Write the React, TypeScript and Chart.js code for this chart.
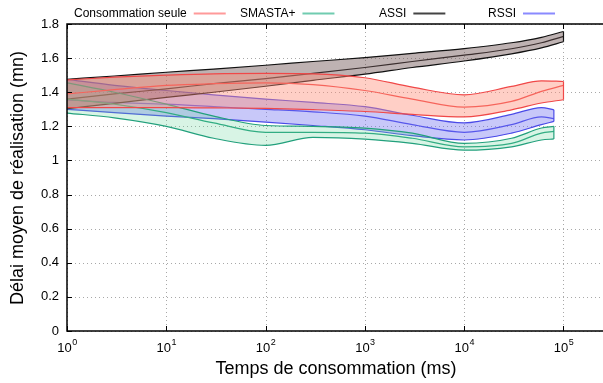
import React, { useEffect, useRef } from 'react';
import { Chart, registerables } from 'chart.js';
Chart.register(...registerables);

// ---- data ----
const xLong = [1, 3, 10, 30, 100, 300, 1000, 3000, 10000, 30000, 60000, 100000];
const xShort = [1, 3, 10, 30, 100, 300, 1000, 3000, 10000, 30000, 60000, 80000];

const consoUpper = [1.472, 1.488, 1.5, 1.508, 1.51, 1.508, 1.485, 1.43, 1.385, 1.434, 1.467, 1.463];
const consoMid = [1.39, 1.415, 1.44, 1.45, 1.455, 1.445, 1.41, 1.36, 1.313, 1.346, 1.405, 1.44];
const consoLower = [1.31, 1.31, 1.31, 1.308, 1.305, 1.298, 1.287, 1.27, 1.255, 1.297, 1.337, 1.356];

const smastaUpper = [1.455, 1.4, 1.33, 1.26, 1.205, 1.2, 1.19, 1.16, 1.1, 1.13, 1.19, 1.2];
const smastaMid = [1.36, 1.33, 1.28, 1.22, 1.165, 1.165, 1.16, 1.13, 1.08, 1.1, 1.16, 1.17];
const smastaLower = [1.278, 1.25, 1.2, 1.13, 1.088, 1.135, 1.125, 1.1, 1.06, 1.08, 1.12, 1.126];

const assiUpper = [1.476, 1.495, 1.517, 1.536, 1.558, 1.58, 1.603, 1.628, 1.656, 1.69, 1.722, 1.756];
const assiMid = [1.359, 1.39, 1.42, 1.45, 1.48, 1.51, 1.545, 1.58, 1.617, 1.655, 1.69, 1.727];
const assiLower = [1.303, 1.335, 1.37, 1.4, 1.435, 1.47, 1.506, 1.545, 1.583, 1.625, 1.66, 1.696];

const rssiUpper = [1.475, 1.44, 1.41, 1.385, 1.36, 1.34, 1.315, 1.265, 1.22, 1.27, 1.31, 1.297];
const rssiMid = [1.355, 1.34, 1.33, 1.315, 1.3, 1.285, 1.26, 1.21, 1.165, 1.21, 1.255, 1.245];
const rssiLower = [1.3, 1.28, 1.26, 1.245, 1.225, 1.205, 1.18, 1.145, 1.12, 1.16, 1.21, 1.229];

const seriesNames = ['Consommation seule', 'SMASTA+', 'ASSI', 'RSSI'];
const xTickValues = [1, 10, 100, 1000, 10000, 100000];
const xTickExponents = ['0', '1', '2', '3', '4', '5'];
const yTickValues = [0, 0.2, 0.4, 0.6, 0.8, 1, 1.2, 1.4, 1.6, 1.8];
const yTickLabels = ['0', '0.2', '0.4', '0.6', '0.8', '1', '1.2', '1.4', '1.6', '1.8'];
const xTitle = 'Temps de consommation (ms)';
const yTitle = 'Délai moyen de réalisation (mn)';

const FONT = '"Liberation Sans", Arial, Helvetica, sans-serif';

const series = [
  { name: seriesNames[0], x: xLong, up: consoUpper, mid: consoMid, lo: consoLower, line: '#f04848', fill: 'rgba(255,140,120,0.42)', legend: '#ff9a9a' },
  { name: seriesNames[1], x: xShort, up: smastaUpper, mid: smastaMid, lo: smastaLower, line: '#22a07c', fill: 'rgba(100,210,150,0.25)', legend: '#70ccb0' },
  { name: seriesNames[2], x: xLong, up: assiUpper, mid: assiMid, lo: assiLower, line: '#111111', fill: 'rgba(110,85,85,0.45)', legend: '#444444' },
  { name: seriesNames[3], x: xShort, up: rssiUpper, mid: rssiMid, lo: rssiLower, line: '#4a4ae8', fill: 'rgba(110,110,240,0.38)', legend: '#8a8aff' },
];

export default function App() {
  const ref = useRef<HTMLCanvasElement>(null);
  useEffect(() => {
    const canvas = ref.current!;
    const mk = (xs: number[], ys: number[]) => xs.map((x, i) => ({ x, y: ys[i] }));
    const datasets: any[] = [];
    series.forEach((s) => {
      const base = datasets.length;
      const common = { pointRadius: 0, borderWidth: 1.2, cubicInterpolationMode: 'monotone', borderColor: s.line };
      datasets.push({ ...common, label: s.name + ' lo', data: mk(s.x, s.lo), fill: false });
      datasets.push({ ...common, label: s.name + ' up', data: mk(s.x, s.up), fill: base, backgroundColor: s.fill });
      datasets.push({ ...common, label: s.name, data: mk(s.x, s.mid), fill: false });
    });

    const custom = {
      id: 'custom',
      beforeDatasetsDraw(chart: any) {
        const { ctx, chartArea: a, scales } = chart;
        const x = scales.x, y = scales.y;
        ctx.save();
        ctx.strokeStyle = '#a8a8a8';
        ctx.lineWidth = 1;
        ctx.setLineDash([1, 3]);
        xTickValues.forEach((v) => {
          const px = Math.round(x.getPixelForValue(v)) + 0.5;
          ctx.beginPath(); ctx.moveTo(px, a.top); ctx.lineTo(px, a.bottom); ctx.stroke();
        });
        yTickValues.forEach((v) => {
          const py = Math.round(y.getPixelForValue(v)) + 0.5;
          ctx.beginPath(); ctx.moveTo(a.left, py); ctx.lineTo(a.right, py); ctx.stroke();
        });
        ctx.restore();
      },
      afterDatasetsDraw(chart: any) {
        const { ctx } = chart;
        ctx.save();
        ctx.lineWidth = 1.2;
        series.forEach((s, i) => {
          const lo = chart.getDatasetMeta(i * 3).data;
          const up = chart.getDatasetMeta(i * 3 + 1).data;
          const pl = lo[lo.length - 1], pu = up[up.length - 1];
          ctx.strokeStyle = s.line;
          ctx.beginPath(); ctx.moveTo(pu.x, pu.y); ctx.lineTo(pl.x, pl.y); ctx.stroke();
        });
        ctx.restore();
      },
      afterDraw(chart: any) {
        const { ctx, chartArea: a, scales } = chart;
        const x = scales.x, y = scales.y;
        ctx.save();
        // frame
        ctx.strokeStyle = '#000';
        ctx.lineWidth = 1.5;
        ctx.beginPath();
        ctx.moveTo(a.right + 2, a.top); ctx.lineTo(a.left, a.top); ctx.lineTo(a.left, a.bottom); ctx.lineTo(a.right + 2, a.bottom);
        ctx.stroke();
        // tick marks
        ctx.lineWidth = 1;
        xTickValues.forEach((v) => {
          const px = Math.round(x.getPixelForValue(v)) + 0.5;
          ctx.beginPath(); ctx.moveTo(px, a.bottom); ctx.lineTo(px, a.bottom - 5); ctx.stroke();
          ctx.beginPath(); ctx.moveTo(px, a.top); ctx.lineTo(px, a.top + 5); ctx.stroke();
        });
        yTickValues.forEach((v) => {
          const py = Math.round(y.getPixelForValue(v)) + 0.5;
          ctx.beginPath(); ctx.moveTo(a.left, py); ctx.lineTo(a.left + 5, py); ctx.stroke();
        });
        // y labels
        ctx.fillStyle = '#000';
        ctx.font = `13px ${FONT}`;
        ctx.textAlign = 'right';
        ctx.textBaseline = 'middle';
        yTickValues.forEach((v, i) => {
          ctx.fillText(yTickLabels[i], a.left - 8, y.getPixelForValue(v));
        });
        // x labels with superscripts
        ctx.textBaseline = 'alphabetic';
        ctx.textAlign = 'left';
        xTickValues.forEach((v, i) => {
          const px = x.getPixelForValue(v);
          ctx.font = `13px ${FONT}`;
          const w1 = ctx.measureText('10').width;
          ctx.font = `9px ${FONT}`;
          const w2 = ctx.measureText(xTickExponents[i]).width;
          const start = px - (w1 + w2) / 2;
          ctx.font = `13px ${FONT}`;
          ctx.fillText('10', start, a.bottom + 21);
          ctx.font = `9px ${FONT}`;
          ctx.fillText(xTickExponents[i], start + w1 + 0.5, a.bottom + 14);
        });
        // titles
        ctx.font = `18px ${FONT}`;
        ctx.textAlign = 'center';
        ctx.textBaseline = 'middle';
        ctx.fillText(xTitle, 336, 369);
        ctx.save();
        ctx.translate(18, 178);
        ctx.rotate(-Math.PI / 2);
        ctx.fillText(yTitle, 0, 0);
        ctx.restore();
        // legend
        ctx.font = `12px ${FONT}`;
        ctx.textAlign = 'left';
        const legendX = [74, 240, 379, 488];
        series.forEach((s, i) => {
          const tx = legendX[i];
          ctx.fillStyle = '#000';
          ctx.fillText(s.name, tx, 13.5);
          const w = ctx.measureText(s.name).width;
          ctx.strokeStyle = s.legend;
          ctx.lineWidth = 1.8;
          ctx.beginPath(); ctx.moveTo(tx + w + 7, 13.5); ctx.lineTo(tx + w + 39, 13.5); ctx.stroke();
        });
        ctx.restore();
      },
    };

    const chart = new Chart(canvas, {
      type: 'line',
      data: { datasets },
      options: {
        animation: false,
        responsive: false,
        devicePixelRatio: 1,
        layout: { padding: { left: 67, top: 24, right: 0, bottom: 52 } },
        plugins: { legend: { display: false }, tooltip: { enabled: false } },
        scales: {
          x: { type: 'logarithmic', min: 1, max: 250000, display: false },
          y: { type: 'linear', min: 0, max: 1.8, display: false },
        },
      } as any,
      plugins: [custom],
    });
    return () => chart.destroy();
  }, []);
  return (
    <div style={{ position: 'absolute', left: 0, top: 0, width: 603, height: 383, background: '#fff' }}>
      <canvas ref={ref} width={603} height={383} style={{ display: 'block' }} />
    </div>
  );
}
